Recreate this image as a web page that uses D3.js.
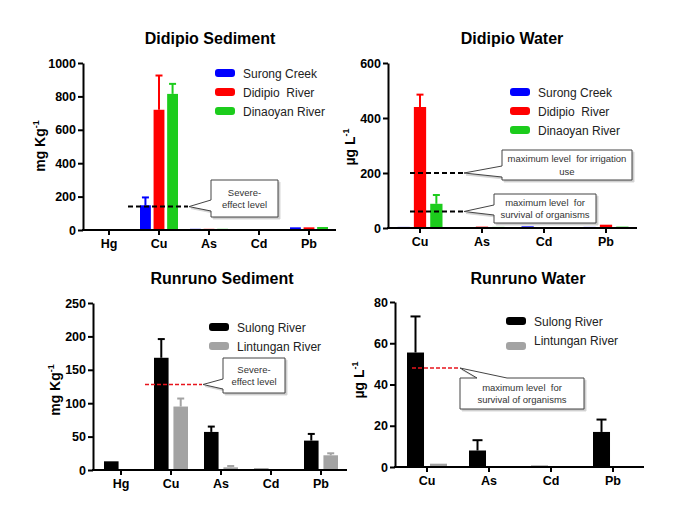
<!DOCTYPE html>
<html>
<head>
<meta charset="utf-8">
<script src="https://cdn.jsdelivr.net/npm/d3@7"></script>
<style>
  body { margin: 0; background: #fff; }
  svg { display: block; }
  text { white-space: pre; }
</style>
</head>
<body>
<svg width="689" height="519"></svg>
<script>
// categories
const sedMetals = ['Hg', 'Cu', 'As', 'Cd', 'Pb'];
const waterMetals = ['Cu', 'As', 'Cd', 'Pb'];
const didipioSites = ['Surong Creek', 'Didipio  River', 'Dinaoyan River'];
const runrunoSites = ['Sulong River', 'Lintungan River'];
const didipioColors = ['#0000ff', '#ff0000', '#1ccc1c'];
const runrunoColors = ['#000000', '#a3a3a3'];

// Didipio sediment, mg/kg (mean, sd)
const didSedSurong = [0, 148, 7, 0, 16];
const didSedSurongSd = [0, 47, 0, 0, 0];
const didSedDidipio = [0, 720, 7, 0, 16];
const didSedDidipioSd = [0, 205, 0, 0, 0];
const didSedDinaoyan = [0, 815, 7, 0, 18];
const didSedDinaoyanSd = [0, 60, 0, 0, 0];

// Didipio water, ug/L
const didWatSurong = [4, 0, 6, 4];
const didWatSurongSd = [0, 0, 0, 0];
const didWatDidipio = [440, 5, 0, 12];
const didWatDidipioSd = [45, 0, 0, 0];
const didWatDinaoyan = [88, 4, 0, 5];
const didWatDinaoyanSd = [32, 0, 0, 0];

// Runruno sediment, mg/kg
const runSedSulong = [13, 168, 57, 2, 44];
const runSedSulongSd = [0, 28, 8, 0, 10];
const runSedLintungan = [0, 95, 4, 0, 22];
const runSedLintunganSd = [0, 12, 2, 0, 3];

// Runruno water, ug/L
const runWatSulong = [55.5, 8, 0.6, 17];
const runWatSulongSd = [17.5, 5, 0, 6];
const runWatLintungan = [1.6, 0.4, 0.4, 0];
const runWatLintunganSd = [0, 0, 0, 0];

// guideline levels
const severeEffectDid = 140;
const irrigationMax = 200;
const survivalMaxDid = 60;
const severeEffectRun = 128;
const survivalMaxRun = 48;

const svg = d3.select('svg');
const FONT = '"Liberation Sans", Arial, sans-serif';

// speech-bubble box with a notch pointing at the end of a guideline
const callout = (g, o) => {
  const { x, y, w, h } = o.box;
  let p;
  if (o.side === 'top') {
    p = `M${x},${y}H${o.notch[0]}L${o.tip[0]},${o.tip[1]}L${o.notch[1]},${y}H${x + w}V${y + h}H${x}Z`;
  } else {
    p = `M${x},${y}H${x + w}V${y + h}H${x}V${o.notch[1]}L${o.tip[0]},${o.tip[1]}L${x},${o.notch[0]}Z`;
  }
  g.append('path').attr('d', p).attr('transform', 'translate(2,2)')
    .attr('fill', '#c8c8c8').attr('stroke', '#d8d8d8');
  g.append('path').attr('d', p).attr('fill', '#fff')
    .attr('stroke', '#444').attr('stroke-width', 1);
  const n = o.lines.length;
  o.lines.forEach((t, i) => {
    g.append('text')
      .attr('x', x + w / 2)
      .attr('y', y + h / 2 + (i - (n - 1) / 2) * 12.5 + 3.5)
      .attr('text-anchor', 'middle')
      .attr('font-family', FONT)
      .attr('font-size', 9.5)
      .attr('fill', '#333')
      .text(t);
  });
};

const drawPanel = o => {
  const g = svg.append('g');
  const x = d3.scaleBand().domain(o.metals).range([o.x0, o.x1]);
  const x1 = d3.scaleBand().domain(o.sites).range([-o.gw / 2, o.gw / 2]).paddingInner(o.gap);
  const y = d3.scaleLinear().domain([0, o.ymax]).range([o.yb, o.yt]);

  // bars + upper error whiskers
  o.sites.forEach((s, j) => {
    const vals = o.values[j], sds = o.sds[j];
    o.metals.forEach((m, i) => {
      const bx = x(m) + x.bandwidth() / 2 + x1(s);
      const bw = x1.bandwidth();
      if (vals[i] > 0) {
        g.append('rect')
          .attr('x', bx).attr('width', bw)
          .attr('y', y(vals[i])).attr('height', o.yb - y(vals[i]))
          .attr('fill', o.colors[j]);
      }
      if (sds[i] > 0) {
        const cx = bx + bw / 2;
        g.append('line')
          .attr('x1', cx).attr('x2', cx)
          .attr('y1', y(vals[i])).attr('y2', y(vals[i] + sds[i]))
          .attr('stroke', o.colors[j]).attr('stroke-width', 2);
        g.append('line')
          .attr('x1', cx - o.cap / 2).attr('x2', cx + o.cap / 2)
          .attr('y1', y(vals[i] + sds[i])).attr('y2', y(vals[i] + sds[i]))
          .attr('stroke', o.colors[j]).attr('stroke-width', 2);
      }
    });
  });

  // y axis
  const ya = g.append('g')
    .attr('transform', `translate(${o.ax},0)`)
    .call(d3.axisLeft(y).tickValues(o.ticks).tickFormat(d3.format('d'))
      .tickSize(5).tickSizeOuter(0).tickPadding(2));
  ya.select('.domain').attr('stroke-width', 2);
  ya.selectAll('.tick line').attr('stroke-width', 2);
  ya.selectAll('text').attr('font-family', FONT).attr('font-size', 12.5)
    .attr('font-weight', 'bold').attr('fill', '#000');

  // x axis
  const xa = g.append('g')
    .attr('transform', `translate(0,${o.yb})`)
    .call(d3.axisBottom(x).tickSize(5).tickSizeOuter(0).tickPadding(4));
  xa.select('.domain').remove();
  xa.selectAll('.tick line').attr('stroke-width', 2);
  xa.selectAll('text').attr('font-family', FONT).attr('font-size', 12.5)
    .attr('font-weight', 'bold').attr('fill', '#000');
  g.append('line')
    .attr('x1', o.ax - 1).attr('x2', o.axEnd)
    .attr('y1', o.yb).attr('y2', o.yb)
    .attr('stroke', '#000').attr('stroke-width', 2);

  // title
  g.append('text')
    .attr('x', o.title[1]).attr('y', o.title[2])
    .attr('text-anchor', 'middle')
    .attr('font-family', FONT).attr('font-size', 16).attr('font-weight', 'bold')
    .text(o.title[0]);

  // y label with superscript
  const yl = g.append('text')
    .attr('transform', `translate(${o.ylab[2]},${o.ylab[3]}) rotate(-90)`)
    .attr('text-anchor', 'middle')
    .attr('font-family', FONT).attr('font-size', 14).attr('font-weight', 'bold');
  yl.append('tspan').text(o.ylab[0]);
  yl.append('tspan').attr('font-size', 9).attr('dy', -6).text(o.ylab[1]);

  // legend
  o.sites.forEach((s, j) => {
    const ly = o.legend.y + j * o.legend.dy;
    g.append('rect')
      .attr('x', o.legend.x).attr('y', ly - 4 + (o.legend.swOff ? o.legend.swOff[j] : 0))
      .attr('width', 20).attr('height', 8).attr('rx', 3)
      .attr('fill', o.colors[j]);
    g.append('text')
      .attr('x', o.legend.x + 28).attr('y', ly + 4.5)
      .attr('font-family', FONT).attr('font-size', 12).attr('fill', '#222')
      .text(s);
  });

  // guideline levels + callouts
  o.guides.forEach(gd => {
    g.append('line')
      .attr('x1', gd.from).attr('x2', gd.to)
      .attr('y1', y(gd.level)).attr('y2', y(gd.level))
      .attr('stroke', gd.color).attr('stroke-width', gd.sw)
      .attr('stroke-dasharray', gd.dash);
    callout(g, {
      box: gd.box, side: gd.side, notch: gd.notch,
      tip: [gd.to + 1, y(gd.level)], lines: gd.lines
    });
  });
};

drawPanel({
  metals: sedMetals, sites: didipioSites, colors: didipioColors,
  values: [didSedSurong, didSedDidipio, didSedDinaoyan],
  sds: [didSedSurongSd, didSedDidipioSd, didSedDinaoyanSd],
  x0: 84, x1: 334, ax: 83, axEnd: 336, yb: 230, yt: 63, ymax: 1000,
  ticks: [0, 200, 400, 600, 800, 1000], gw: 38, gap: 0.2, cap: 7,
  title: ['Didipio Sediment', 210, 44], ylab: ['mg Kg', '-1', 45, 146],
  legend: { x: 215, y: 73, dy: 19 },
  guides: [{
    level: severeEffectDid, from: 128, to: 188, color: '#000', sw: 2, dash: '5,3',
    box: { x: 211, y: 180, w: 67, h: 37 }, side: 'left', notch: [200, 211],
    lines: ['Severe-', 'effect level']
  }]
});

drawPanel({
  metals: waterMetals, sites: didipioSites, colors: didipioColors,
  values: [didWatSurong, didWatDidipio, didWatDinaoyan],
  sds: [didWatSurongSd, didWatDidipioSd, didWatDinaoyanSd],
  x0: 389, x1: 637, ax: 388, axEnd: 637, yb: 228, yt: 63, ymax: 600,
  ticks: [0, 200, 400, 600], gw: 45, gap: 0.25, cap: 7,
  title: ['Didipio Water', 512, 44], ylab: ['µg L', '-1', 355, 147],
  legend: { x: 510, y: 92, dy: 19 },
  guides: [{
    level: irrigationMax, from: 410, to: 463, color: '#000', sw: 2, dash: '5,3',
    box: { x: 502, y: 150, w: 130, h: 30 }, side: 'left', notch: [166, 177],
    lines: ['maximum level  for irrigation', 'use']
  }, {
    level: survivalMaxDid, from: 410, to: 463, color: '#000', sw: 2, dash: '5,3',
    box: { x: 494, y: 194, w: 102, h: 29 }, side: 'left', notch: [205, 215],
    lines: ['maximum level  for', 'survival of organisms']
  }]
});

drawPanel({
  metals: sedMetals, sites: runrunoSites, colors: runrunoColors,
  values: [runSedSulong, runSedLintungan],
  sds: [runSedSulongSd, runSedLintunganSd],
  x0: 96, x1: 346, ax: 93, axEnd: 347, yb: 470, yt: 303, ymax: 250,
  ticks: [0, 50, 100, 150, 200, 250], gw: 34, gap: 0.25, cap: 7,
  title: ['Runruno Sediment', 222, 284], ylab: ['mg Kg', '-1', 60, 390],
  legend: { x: 209, y: 327, dy: 19 },
  guides: [{
    level: severeEffectRun, from: 145, to: 202, color: '#e8141c', sw: 1.5, dash: '4,2',
    box: { x: 223, y: 358, w: 62, h: 35 }, side: 'left', notch: [379, 389],
    lines: ['Severe-', 'effect level']
  }]
});

drawPanel({
  metals: waterMetals, sites: runrunoSites, colors: runrunoColors,
  values: [runWatSulong, runWatLintungan],
  sds: [runWatSulongSd, runWatLintunganSd],
  x0: 396, x1: 644, ax: 395, axEnd: 644, yb: 467, yt: 302, ymax: 80,
  ticks: [0, 20, 40, 60, 80], gw: 40, gap: 0.26, cap: 10,
  title: ['Runruno Water', 528, 284], ylab: ['µg L', '-1', 364, 380],
  legend: { x: 506, y: 321, dy: 19, swOff: [0, 6] },
  guides: [{
    level: survivalMaxRun, from: 412, to: 459, color: '#e8141c', sw: 1.5, dash: '4,2',
    box: { x: 460, y: 378, w: 124, h: 31 }, side: 'top', notch: [477, 507],
    lines: ['maximum level  for', 'survival of organisms']
  }]
});
</script>
</body>
</html>
